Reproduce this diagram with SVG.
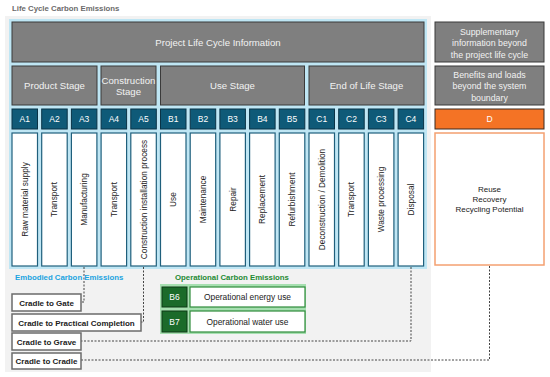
<svg xmlns="http://www.w3.org/2000/svg" width="550" height="377" viewBox="0 0 550 377">
<style>
text{font-family:"Liberation Sans",Arial,sans-serif}
.hdr{fill:#7f7f7f;stroke:#3a3a3a;stroke-width:1}
.hdrt{fill:#f2f2f2;font-size:9.6px;text-anchor:middle}
.rt{fill:#f2f2f2;font-size:8.8px;text-anchor:middle}
.code{fill:#0f5a78;stroke:#0a3346;stroke-width:1}
.codet{fill:#ffffff;font-size:8.5px;text-anchor:middle}
.tall{fill:#ffffff;stroke:#1f5f7c;stroke-width:1.2}
.vt{fill:#222;font-size:8.3px;text-anchor:middle}
.rv{fill:#222;font-size:8px;text-anchor:middle}
.cr{fill:#ffffff;stroke:#6b6b6b;stroke-width:1.5}
.crt{fill:#222;font-size:8px;font-weight:bold;text-anchor:middle}
.dot{fill:none;stroke:#444;stroke-width:1;stroke-dasharray:2 1.5}
.gcode{fill:#1b6b2a;stroke:#0d3b14;stroke-width:1}
.glab{fill:#ffffff;stroke:#2e8b3a;stroke-width:1.2}
.gt{fill:#222;font-size:8.4px;text-anchor:middle}
</style>
<rect x="0" y="0" width="550" height="377" fill="#ffffff"/>
<text x="12" y="11" font-size="7.8" font-weight="bold" fill="#6b6b6b">Life Cycle Carbon Emissions</text>
<rect id="bg" x="5" y="16" width="426" height="356" fill="#f2f2f2"/>
<rect id="frame" x="9" y="19" width="418" height="250" fill="#bfe6f4"/>

<g id="top-header"><rect class="hdr" x="12" y="22" width="412" height="40"/><text class="hdrt" x="218" y="46" font-size="11">Project Life Cycle Information</text></g>
<g id="product-stage"><rect class="hdr" x="12" y="66" width="85" height="39"/><text class="hdrt" x="54.5" y="89">Product Stage</text></g>
<g id="construction-stage"><rect class="hdr" x="101" y="66" width="55" height="39"/><text class="hdrt" x="128.5" y="83.5" font-size="8.6">Construction</text><text class="hdrt" x="128.5" y="95" font-size="8.6">Stage</text></g>
<g id="use-stage"><rect class="hdr" x="160.5" y="66" width="144" height="39"/><text class="hdrt" x="232.5" y="89">Use Stage</text></g>
<g id="eol-stage"><rect class="hdr" x="309" y="66" width="115" height="39"/><text class="hdrt" x="366.5" y="89">End of Life Stage</text></g>

<g id="supp"><rect class="hdr" x="435" y="22" width="109" height="40"/><text class="rt" x="489.5" y="34.5">Supplementary</text><text class="rt" x="489.5" y="46">information beyond</text><text class="rt" x="489.5" y="57.5">the project life cycle</text></g>
<g id="benefits"><rect class="hdr" x="435" y="66" width="109" height="39"/><text class="rt" x="489.5" y="77.5">Benefits and loads</text><text class="rt" x="489.5" y="89">beyond the system</text><text class="rt" x="489.5" y="100.5">boundary</text></g>
<g id="D"><rect x="435" y="109" width="109" height="20" fill="#f47325" stroke="#3a2a20" stroke-width="1"/><text class="codet" x="489.5" y="122">D</text></g>
<g id="D-detail"><rect x="435" y="133" width="109" height="132" fill="#ffffff" stroke="#f4a070" stroke-width="1.5"/><text class="rv" x="489.5" y="191.5">Reuse</text><text class="rv" x="489.5" y="201.5">Recovery</text><text class="rv" x="489.5" y="211.5">Recycling Potential</text></g>

<g id="A1"><rect class="code" x="12" y="109" width="25.5" height="20"/><text class="codet" x="24.75" y="122">A1</text><rect class="tall" x="12" y="133" width="25.5" height="133"/><text class="vt" transform="translate(27.7,199.5) rotate(-90)">Raw material supply</text></g>
<g id="A2"><rect class="code" x="41.7" y="109" width="25.5" height="20"/><text class="codet" x="54.45" y="122">A2</text><rect class="tall" x="41.7" y="133" width="25.5" height="133"/><text class="vt" transform="translate(57.4,199.5) rotate(-90)">Transport</text></g>
<g id="A3"><rect class="code" x="71.4" y="109" width="25.5" height="20"/><text class="codet" x="84.15" y="122">A3</text><rect class="tall" x="71.4" y="133" width="25.5" height="133"/><text class="vt" transform="translate(87.1,199.5) rotate(-90)">Manufacturing</text></g>
<g id="A4"><rect class="code" x="101.1" y="109" width="25.5" height="20"/><text class="codet" x="113.85" y="122">A4</text><rect class="tall" x="101.1" y="133" width="25.5" height="133"/><text class="vt" transform="translate(116.8,199.5) rotate(-90)">Transport</text></g>
<g id="A5"><rect class="code" x="130.8" y="109" width="25.5" height="20"/><text class="codet" x="143.55" y="122">A5</text><rect class="tall" x="130.8" y="133" width="25.5" height="133"/><text class="vt" transform="translate(146.5,199.5) rotate(-90)">Construction installation process</text></g>
<g id="B1"><rect class="code" x="160.5" y="109" width="25.5" height="20"/><text class="codet" x="173.25" y="122">B1</text><rect class="tall" x="160.5" y="133" width="25.5" height="133"/><text class="vt" transform="translate(176.2,199.5) rotate(-90)">Use</text></g>
<g id="B2"><rect class="code" x="190.2" y="109" width="25.5" height="20"/><text class="codet" x="202.95" y="122">B2</text><rect class="tall" x="190.2" y="133" width="25.5" height="133"/><text class="vt" transform="translate(205.9,199.5) rotate(-90)">Maintenance</text></g>
<g id="B3"><rect class="code" x="219.9" y="109" width="25.5" height="20"/><text class="codet" x="232.65" y="122">B3</text><rect class="tall" x="219.9" y="133" width="25.5" height="133"/><text class="vt" transform="translate(235.6,199.5) rotate(-90)">Repair</text></g>
<g id="B4"><rect class="code" x="249.6" y="109" width="25.5" height="20"/><text class="codet" x="262.35" y="122">B4</text><rect class="tall" x="249.6" y="133" width="25.5" height="133"/><text class="vt" transform="translate(265.3,199.5) rotate(-90)">Replacement</text></g>
<g id="B5"><rect class="code" x="279.3" y="109" width="25.5" height="20"/><text class="codet" x="292.05" y="122">B5</text><rect class="tall" x="279.3" y="133" width="25.5" height="133"/><text class="vt" transform="translate(295,199.5) rotate(-90)">Refurbishment</text></g>
<g id="C1"><rect class="code" x="309" y="109" width="25.5" height="20"/><text class="codet" x="321.75" y="122">C1</text><rect class="tall" x="309" y="133" width="25.5" height="133"/><text class="vt" transform="translate(324.7,199.5) rotate(-90)">Deconstruction / Demolition</text></g>
<g id="C2"><rect class="code" x="338.7" y="109" width="25.5" height="20"/><text class="codet" x="351.45" y="122">C2</text><rect class="tall" x="338.7" y="133" width="25.5" height="133"/><text class="vt" transform="translate(354.4,199.5) rotate(-90)">Transport</text></g>
<g id="C3"><rect class="code" x="368.4" y="109" width="25.5" height="20"/><text class="codet" x="381.15" y="122">C3</text><rect class="tall" x="368.4" y="133" width="25.5" height="133"/><text class="vt" transform="translate(384.1,199.5) rotate(-90)">Waste processing</text></g>
<g id="C4"><rect class="code" x="398.1" y="109" width="25.5" height="20"/><text class="codet" x="410.85" y="122">C4</text><rect class="tall" x="398.1" y="133" width="25.5" height="133"/><text class="vt" transform="translate(413.8,199.5) rotate(-90)">Disposal</text></g>

<g id="connectors">
<polyline class="dot" points="84,267 84,302 81,302"/>
<polyline class="dot" points="143.5,267 143.5,322 141,322"/>
<polyline class="dot" points="411,267 411,341 81,341"/>
<polyline class="dot" points="489.5,266 489.5,360 81,360"/>
</g>

<text x="15" y="279.5" font-size="7.8" font-weight="bold" fill="#1aa3e0">Embodied Carbon Emissions</text>
<text x="175" y="279.5" font-size="7.8" font-weight="bold" fill="#1e8a32">Operational Carbon Emissions</text>

<rect id="green-frame" x="160" y="284" width="146" height="50" fill="#a6dfb0"/>
<g id="B6"><rect class="gcode" x="162" y="287" width="25" height="20"/><text class="codet" x="174.5" y="300">B6</text><rect class="glab" x="190" y="287" width="115" height="20"/><text class="gt" x="247.5" y="300">Operational energy use</text></g>
<g id="B7"><rect class="gcode" x="162" y="311" width="25" height="21"/><text class="codet" x="174.5" y="324.5">B7</text><rect class="glab" x="190" y="311" width="115" height="21"/><text class="gt" x="247.5" y="324.5">Operational water use</text></g>

<g id="cradle-gate"><rect class="cr" x="12" y="294" width="69" height="17"/><text class="crt" x="46.5" y="305.5">Cradle to Gate</text></g>
<g id="cradle-pc"><rect class="cr" x="12" y="314" width="129" height="17"/><text class="crt" x="76.5" y="325.5">Cradle to Practical Completion</text></g>
<g id="cradle-grave"><rect class="cr" x="12" y="333" width="69" height="17"/><text class="crt" x="46.5" y="344.5">Cradle to Grave</text></g>
<g id="cradle-cradle"><rect class="cr" x="12" y="353" width="69" height="16"/><text class="crt" x="46.5" y="364">Cradle to Cradle</text></g>
</svg>
